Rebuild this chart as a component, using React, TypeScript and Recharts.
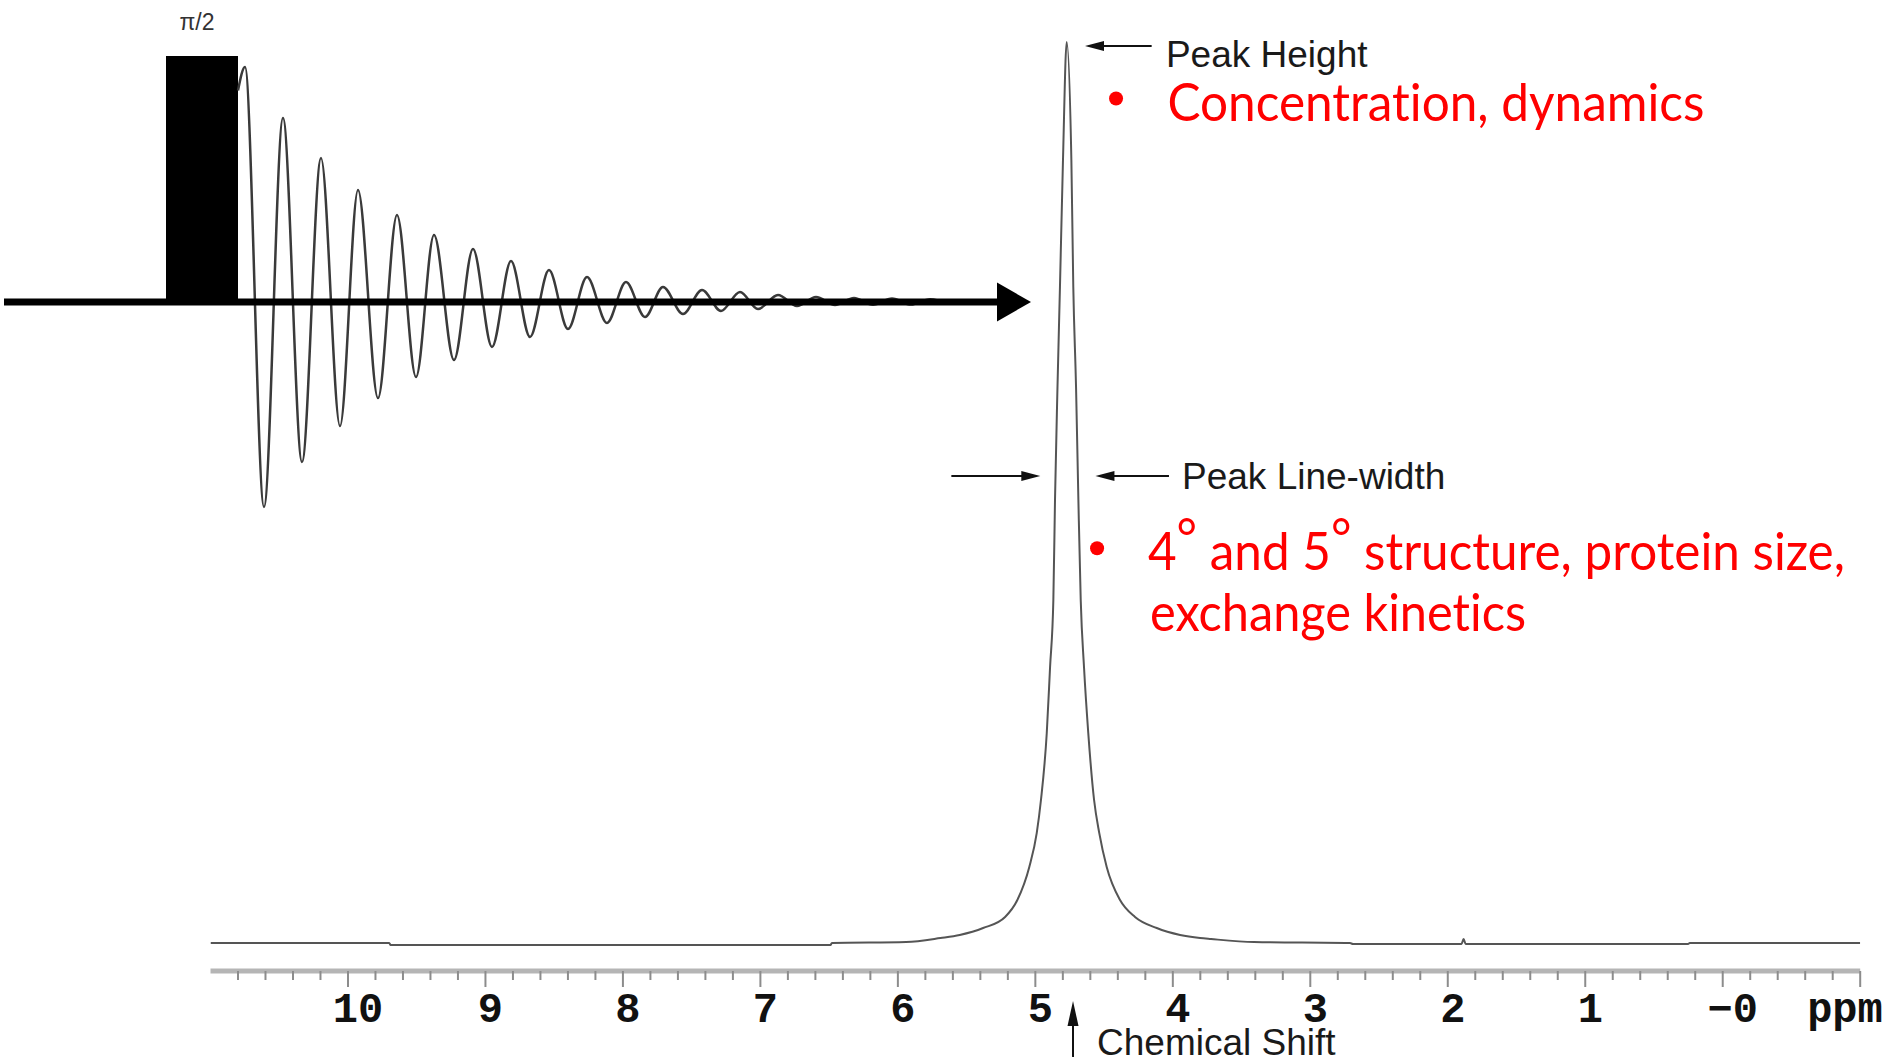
import React from "react";
import {
  LineChart,
  Line,
  XAxis,
  YAxis,
  ReferenceLine,
  ReferenceDot,
  ReferenceArea,
} from "recharts";

const W = 1891;
const H = 1062;

// 1H spectrum: chemical shift (ppm) / intensity (% of peak)
const shiftPpm = [
  11.0, 9.7, 9.69, 6.49, 6.48, 5.94, 5.69, 5.55, 5.38, 5.22, 5.131, 5.044, 4.99,
  4.959, 4.917, 4.893, 4.869, 4.857, 4.839, 4.821, 4.799, 4.772, 4.738, 4.724,
  4.704, 4.687, 4.67, 4.646, 4.615, 4.573, 4.535, 4.481, 4.384, 4.275, 4.117,
  3.947, 3.802, 3.722, 3.409, 2.711, 2.69, 1.9, 1.885, 1.87, 0.252, 0.24, -1.0,
];
const intensity = [
  0, 0, -0.22, -0.22, 0, 0.11, 0.55, 0.89, 1.66, 2.89, 4.77, 8.44, 12.2, 15.9,
  23.3, 30.6, 38.1, 49.2, 61.7, 72.8, 86.9, 100, 86.9, 72.8, 61.7, 49.2, 38.1,
  30.6, 23.3, 15.9, 12.2, 8.44, 4.77, 2.89, 1.66, 0.89, 0.55, 0.44, 0.11, 0,
  -0.11, -0.11, 0.44, -0.11, -0.11, 0, 0,
];

// FID extrema after the pi/2 pulse: time (a.u.) / normalised amplitude
const fidTime = [
  0, 7, 26, 45, 64, 83, 102, 120, 140, 159, 178, 196, 216, 235, 254, 273, 292,
  311, 330, 349, 369, 388, 407, 425, 445, 464, 483, 502, 520, 540, 559, 578, 597,
  616, 635, 654, 673, 692, 711,
];
const fidAmp = [
  0.9, 1.0, -0.872, 0.783, -0.681, 0.613, -0.528, 0.477, -0.409, 0.37, -0.319,
  0.285, -0.247, 0.226, -0.191, 0.174, -0.149, 0.136, -0.115, 0.106, -0.089,
  0.085, -0.064, 0.064, -0.051, 0.051, -0.038, 0.043, -0.03, 0.03, -0.017, 0.021,
  -0.013, 0.017, -0.012, 0.015, -0.011, 0.012, -0.008,
];

// axis
const majorTicks = [10, 9, 8, 7, 6, 5, 4, 3, 2, 1, 0, -1];
const majorLabels = ["10", "9", "8", "7", "6", "5", "4", "3", "2", "1", "\u22120", ""];

const spectrum = shiftPpm.map((ppm, i) => ({ ppm, intensity: intensity[i] }));
const fid = fidTime.map((t, i) => ({ t, amp: fidAmp[i] }));

const tickValues: number[] = [];
for (let i = 1; i <= 60; i++) tickValues.push(Math.round((11 - i * 0.2) * 10) / 10);

const RED = "#ff0000";
const sansLabel = {
  fontFamily: "'Liberation Sans', Arial, sans-serif",
  fontSize: 37,
  fill: "#1a1a1a",
};
const redText = {
  fontFamily: "Lato, 'Open Sans', sans-serif",
  fontSize: 52,
  fill: RED,
  style: { fontVariantLigatures: "none" },
};

const PpmTick = (props: any) => {
  const { x, y, payload } = props;
  const v = payload.value;
  const idx = majorTicks.indexOf(v);
  const major = idx >= 0;
  const label = major ? majorLabels[idx] : "";
  return (
    <g>
      <line x1={x} y1={y} x2={x} y2={y + (major ? 16 : 9)} stroke="#8c8c8c" strokeWidth={2} />
      {label && (
        <text
          x={x + (label.length > 1 ? 10 : 5)}
          y={y + 51}
          textAnchor="middle"
          fontFamily="'Liberation Mono', 'Courier New', monospace"
          fontWeight="bold"
          fontSize={42}
          fill="#111"
        >
          {label}
        </text>
      )}
    </g>
  );
};

const arrowShape =
  (headLen: number, headHalf: number, width: number, color: string) => (p: any) => {
    const { x1, y1, x2, y2 } = p;
    const dx = x2 - x1;
    const dy = y2 - y1;
    const len = Math.hypot(dx, dy) || 1;
    const ux = dx / len;
    const uy = dy / len;
    const bx = x2 - ux * headLen;
    const by = y2 - uy * headLen;
    const nx = -uy;
    const ny = ux;
    return (
      <g>
        <line x1={x1} y1={y1} x2={bx + ux * 2} y2={by + uy * 2} stroke={color} strokeWidth={width} />
        <polygon
          points={`${x2},${y2} ${bx + nx * headHalf},${by + ny * headHalf} ${bx - nx * headHalf},${by - ny * headHalf}`}
          fill={color}
        />
      </g>
    );
  };

const textShape = (content: React.ReactNode, style: any) => (p: any) =>
  (
    <text x={p.cx} y={p.cy} {...style}>
      {content}
    </text>
  );

const smallArrow = arrowShape(19, 5, 2, "#111");

const App = () => {
  return (
    <div style={{ position: "absolute", left: 0, top: 0, width: W, height: H, background: "#fff" }}>
      {/* spectrum */}
      <div style={{ position: "absolute", left: 0, top: 0 }}>
        <LineChart
          width={W}
          height={H}
          data={spectrum}
          margin={{ top: 32, right: 30.8, left: 210.5, bottom: 31 }}
        >
          <XAxis
            dataKey="ppm"
            type="number"
            domain={[-1, 11]}
            reversed
            allowDataOverflow
            ticks={tickValues}
            interval={0}
            height={60}
            tickSize={0}
            tickMargin={0}
            tickLine={false}
            tick={<PpmTick />}
            axisLine={{ stroke: "#b5b5b5", strokeWidth: 5 }}
          />
          <YAxis hide type="number" domain={[-3.108, 101.11]} allowDataOverflow />
          <Line
            dataKey="intensity"
            type="monotone"
            stroke="#555"
            strokeWidth={2}
            dot={false}
            isAnimationActive={false}
          />

          {/* peak height */}
          <ReferenceLine
            segment={[{ x: 4.154, y: 99.56 }, { x: 4.639, y: 99.56 }]}
            ifOverflow="visible"
            shape={smallArrow}
          />
          <ReferenceDot x={4.05} y={97.2} r={0} ifOverflow="visible" shape={textShape("Peak Height", sansLabel)} />
          <ReferenceDot x={4.413} y={93.73} r={7} fill={RED} stroke="none" ifOverflow="visible" />
          <ReferenceDot
            x={4.039}
            y={91.23}
            r={0}
            ifOverflow="visible"
            shape={textShape("Concentration, dynamics", { ...redText, textLength: 537, lengthAdjust: "spacingAndGlyphs" })}
          />

          {/* line width */}
          <ReferenceLine
            segment={[{ x: 5.611, y: 51.83 }, { x: 4.964, y: 51.83 }]}
            ifOverflow="visible"
            shape={smallArrow}
          />
          <ReferenceLine
            segment={[{ x: 4.028, y: 51.83 }, { x: 4.563, y: 51.83 }]}
            ifOverflow="visible"
            shape={smallArrow}
          />
          <ReferenceDot x={3.933} y={50.39} r={0} ifOverflow="visible" shape={textShape("Peak Line-width", sansLabel)} />
          <ReferenceDot x={4.551} y={43.81} r={7} fill={RED} stroke="none" ifOverflow="visible" />
          <ReferenceDot
            x={4.181}
            y={41.4}
            r={0}
            ifOverflow="visible"
            shape={textShape(
              <>
                <tspan>4</tspan>
                <tspan dy={-14}>°</tspan>
                <tspan dy={14}> and 5</tspan>
                <tspan dy={-14}>°</tspan>
                <tspan dy={14}> structure, protein size,</tspan>
              </>,
              { ...redText, textLength: 697, lengthAdjust: "spacingAndGlyphs" }
            )}
          />
          <ReferenceDot
            x={4.166}
            y={34.63}
            r={0}
            ifOverflow="visible"
            shape={textShape("exchange kinetics", { ...redText, textLength: 376, lengthAdjust: "spacingAndGlyphs" })}
          />

          {/* chemical shift */}
          <ReferenceLine
            segment={[{ x: 4.726, y: -12.65 }, { x: 4.726, y: -6.437 }]}
            ifOverflow="visible"
            shape={arrowShape(25, 5.5, 2, "#111")}
          />
          <ReferenceDot x={4.551} y={-12.43} r={0} ifOverflow="visible" shape={textShape("Chemical Shift", sansLabel)} />
          <ReferenceDot
            x={-0.889}
            y={-8.77}
            r={0}
            ifOverflow="visible"
            shape={textShape("ppm", {
              textAnchor: "middle",
              fontFamily: "'Liberation Mono', 'Courier New', monospace",
              fontWeight: "bold",
              fontSize: 42,
              fill: "#111",
            })}
          />
        </LineChart>
      </div>

      {/* FID */}
      <div style={{ position: "absolute", left: 0, top: 0 }}>
        <LineChart
          width={W}
          height={H}
          data={fid}
          margin={{ top: 43.5, right: 860, left: 4, bottom: 501.5 }}
        >
          <XAxis dataKey="t" type="number" domain={[-234, 793]} allowDataOverflow hide />
          <YAxis type="number" domain={[-1.1, 1.1]} allowDataOverflow hide />
          <ReferenceArea x1={-72} x2={0} y1={0} y2={1.047} fill="#000" fillOpacity={1} stroke="none" ifOverflow="visible" />
          <Line
            dataKey="amp"
            type="monotone"
            stroke="#3a3a3a"
            strokeWidth={2.5}
            dot={false}
            isAnimationActive={false}
          />
          <ReferenceLine
            segment={[{ x: -234, y: 0 }, { x: 793, y: 0 }]}
            ifOverflow="visible"
            shape={arrowShape(34, 19.5, 7, "#000")}
          />
          <ReferenceDot
            x={-41}
            y={1.157}
            r={0}
            ifOverflow="visible"
            shape={textShape("\u03c0/2", {
              textAnchor: "middle",
              fontFamily: "'Liberation Sans', Arial, sans-serif",
              fontSize: 23,
              fill: "#333",
            })}
          />
        </LineChart>
      </div>
    </div>
  );
};

export default App;
